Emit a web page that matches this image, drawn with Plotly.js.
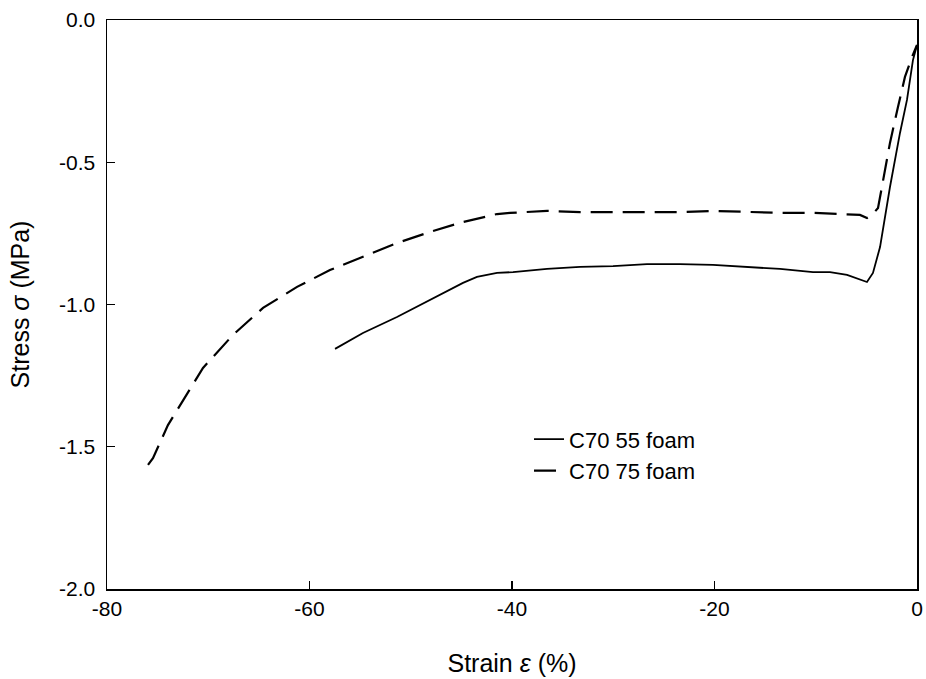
<!DOCTYPE html>
<html>
<head>
<meta charset="utf-8">
<script src="https://cdn.plot.ly/plotly-3.0.1.min.js"></script>
<style>html,body{margin:0;padding:0;background:#fff;}#chart{width:926px;height:679px;}</style>
</head>
<body>
<div id="chart"></div>
<script>
// C70 55 foam (solid)
const strain55 = [-57.48,-54.72,-51.36,-48.10,-44.84,-43.46,-41.48,-39.90,-36.54,-33.28,-30.02,-26.67,-23.41,-20.15,-16.79,-13.53,-10.27,-8.59,-6.91,-5.63,-4.94,-4.35,-3.65,-2.67,-1.68,-0.99,-0.40,0];
const stress55 = [-1.156,-1.100,-1.044,-0.984,-0.924,-0.903,-0.889,-0.886,-0.875,-0.868,-0.865,-0.858,-0.858,-0.861,-0.868,-0.875,-0.886,-0.886,-0.896,-0.914,-0.921,-0.889,-0.798,-0.587,-0.397,-0.281,-0.141,-0.088];
// C70 75 foam (dashed)
const strain75 = [-75.95,-75.46,-73.98,-72.59,-71.31,-70.52,-69.63,-67.56,-64.59,-61.23,-57.98,-54.72,-51.36,-48.10,-44.84,-41.48,-40.20,-36.54,-33.28,-30.02,-26.67,-23.41,-20.15,-16.79,-13.53,-10.27,-6.91,-5.63,-4.94,-4.44,-3.85,-3.36,-2.67,-1.88,-1.19,-0.49,0];
const stress75 = [-1.564,-1.540,-1.424,-1.343,-1.265,-1.223,-1.188,-1.107,-1.012,-0.938,-0.879,-0.833,-0.784,-0.745,-0.710,-0.682,-0.678,-0.671,-0.675,-0.675,-0.675,-0.675,-0.671,-0.675,-0.678,-0.678,-0.682,-0.685,-0.696,-0.685,-0.661,-0.562,-0.432,-0.306,-0.200,-0.130,-0.088];

const xTickVals = [-80,-60,-40,-20,0];
const xTickText = ["-80","-60","-40","-20","0"];
const yTickVals = [0,-0.5,-1.0,-1.5,-2.0];
const yTickText = ["0.0","-0.5","-1.0","-1.5","-2.0"];

const traces = [
  {x: strain55, y: stress55, type: 'scatter', mode: 'lines', name: 'C70 55 foam',
   line: {color: '#000', width: 1.8}},
  {x: strain75, y: stress75, type: 'scatter', mode: 'lines', name: 'C70 75 foam',
   line: {color: '#000', width: 2.2, dash: '22px,10px'}}
];

const layout = {
  width: 926, height: 679,
  margin: {l: 107, r: 9, t: 20, b: 90},
  paper_bgcolor: '#fff', plot_bgcolor: '#fff',
  font: {family: '"Liberation Sans", Arial, sans-serif', color: '#000', size: 21},
  showlegend: true,
  legend: {x: 0.521, y: 0.30, xanchor: 'left', yanchor: 'top',
           bgcolor: 'rgba(0,0,0,0)', font: {size: 22}, tracegroupgap: 0},
  xaxis: {
    range: [-80, 0], tickvals: xTickVals, ticktext: xTickText,
    ticks: 'inside', ticklen: 8, tickwidth: 1.2, tickcolor: '#000',
    showline: true, linecolor: '#000', linewidth: 1.5, mirror: true,
    showgrid: false, zeroline: false,
    tickfont: {size: 21},
    title: {text: 'Strain <i>ε</i> (%)', font: {size: 25}, standoff: 36}
  },
  yaxis: {
    range: [-2.0, 0], tickvals: yTickVals, ticktext: yTickText,
    ticks: 'inside', ticklen: 8, tickwidth: 1.2, tickcolor: '#000',
    showline: true, linecolor: '#000', linewidth: 1.5, mirror: true,
    showgrid: false, zeroline: false,
    tickfont: {size: 21}, ticklabelstandoff: 6,
    title: {text: 'Stress <i>σ</i> (MPa)', font: {size: 25}, standoff: 22}
  }
};

Plotly.newPlot('chart', traces, layout, {displayModeBar: false, staticPlot: true});
</script>
</body>
</html>
